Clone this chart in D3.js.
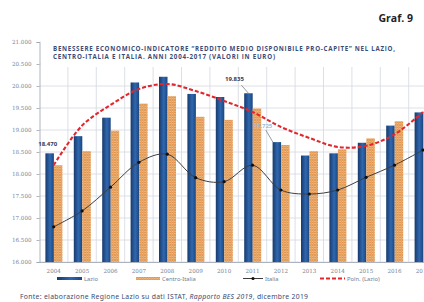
<!DOCTYPE html>
<html>
<head>
<meta charset="utf-8">
<style>
  body { margin: 0; background: #fff; }
  svg { display: block; }
  .tick-lab { font-family: "DejaVu Serif", serif; font-size: 5.6px; fill: #7a8596; }
  .leg { font-family: "Noto Sans", sans-serif; font-size: 5.8px; fill: #6f7d95; }
</style>
</head>
<body>
<svg width="424" height="302"></svg>
<script src="https://cdn.jsdelivr.net/npm/d3@7"></script>
<script>
// data
var years = ["2004","2005","2006","2007","2008","2009","2010","2011","2012","2013","2014","2015","2016","2017"];
var lazio        = [18470, 18860, 19280, 20080, 20210, 19820, 19750, 19835, 18725, 18420, 18470, 18710, 19100, 19400];
var centroItalia = [18200, 18520, 18985, 19600, 19770, 19300, 19230, 19490, 18660, 18520, 18560, 18810, 19200, 19420];
var italia       = [16800, 17160, 17700, 18265, 18450, 17916, 17825, 18200, 17636, 17545, 17636, 17925, 18200, 18545];
var polLazio     = [18200, 19100, 19568, 19930, 20045, 19886, 19660, 19410, 19070, 18820, 18614, 18640, 18900, 19409];
var yTicks = [16000, 16500, 17000, 17500, 18000, 18500, 19000, 19500, 20000, 20500, 21000];
var labelled = [{year: "2004", text: "18.470"}, {year: "2011", text: "19.835"}, {year: "2012", text: "18.725"}];

var svg = d3.select("svg");
var it = d3.formatLocale({decimal: ",", thousands: ".", grouping: [3], currency: ["", "€"]});
var fmt = it.format(",");

var x = d3.scaleBand().domain(years).range([39.5, 437.1]);
var y = d3.scaleLinear().domain([16000, 21000]).range([262, 42]);
var sub = d3.scaleBand().domain(["lazio", "centro"]).range([-8.3, 8.7]);
var cx = function(yr){ return x(yr) + x.bandwidth() / 2; };

var defs = svg.append("defs");
var grad = defs.append("linearGradient").attr("id", "blu").attr("x1", 0).attr("x2", 1).attr("y1", 0).attr("y2", 0);
grad.append("stop").attr("offset", "0%").attr("stop-color", "#183a6c");
grad.append("stop").attr("offset", "55%").attr("stop-color", "#2f68b0");
grad.append("stop").attr("offset", "100%").attr("stop-color", "#1c4680");

var pat = defs.append("pattern").attr("id", "hatch").attr("patternUnits", "userSpaceOnUse")
  .attr("width", 2.5).attr("height", 2.5);
pat.append("rect").attr("width", 2.5).attr("height", 2.5).attr("fill", "#f8d9ae");
pat.append("path").attr("d", "M0,2.5 L2.5,0 M0,0 L2.5,2.5").attr("stroke", "#e0924a").attr("stroke-width", 1);

var g = svg.append("g");

// grid
g.selectAll(".hg").data(yTicks).enter().append("line")
  .attr("x1", 39.5).attr("x2", 437).attr("y1", function(d){ return y(d); }).attr("y2", function(d){ return y(d); })
  .attr("stroke", "#d3d8df").attr("stroke-width", 0.8);
g.selectAll(".vg").data(years.slice(1)).enter().append("line")
  .attr("x1", function(d){ return x(d); }).attr("x2", function(d){ return x(d); })
  .attr("y1", y(21000)).attr("y2", y(16000))
  .attr("stroke", "#d3d8df").attr("stroke-width", 0.8);

// y axis
var ya = g.append("g").attr("transform", "translate(39.5,0)")
  .call(d3.axisLeft(y).tickValues(yTicks).tickSize(3).tickPadding(5).tickFormat(fmt));
ya.select(".domain").attr("stroke", "#9aa3b0").attr("stroke-width", 0.8);
ya.selectAll(".tick line").attr("stroke", "#9aa3b0").attr("stroke-width", 0.8);
ya.selectAll(".tick text").attr("class", "tick-lab").attr("font-family", null).attr("font-size", null);

// x axis
var xa = g.append("g").attr("transform", "translate(0,262)")
  .call(d3.axisBottom(x).tickSize(0).tickPadding(7));
xa.select(".domain").attr("stroke", "#9aa3b0").attr("stroke-width", 0.8);
xa.selectAll(".tick text").attr("class", "tick-lab").attr("font-family", null).attr("font-size", null);

// bars
g.selectAll(".bl").data(years).enter().append("rect")
  .attr("x", function(d){ return cx(d) + sub("lazio"); })
  .attr("width", sub.bandwidth())
  .attr("y", function(d, i){ return y(lazio[i]); })
  .attr("height", function(d, i){ return y(16000) - y(lazio[i]); })
  .attr("fill", "url(#blu)");
g.selectAll(".bc").data(years).enter().append("rect")
  .attr("x", function(d){ return cx(d) + sub("centro"); })
  .attr("width", sub.bandwidth())
  .attr("y", function(d, i){ return y(centroItalia[i]); })
  .attr("height", function(d, i){ return y(16000) - y(centroItalia[i]); })
  .attr("fill", "url(#hatch)");

// title box covers the top of the grid
svg.append("rect").attr("x", 41).attr("y", 40).attr("width", 383).attr("height", 27).attr("fill", "#fff");
var title = svg.append("text").attr("font-family", "Open Sans, sans-serif").attr("font-weight", "bold")
  .attr("font-size", 6.2).attr("fill", "#3b4b78");
title.append("tspan").attr("x", 53).attr("y", 51).attr("textLength", 342)
  .text("BENESSERE ECONOMICO-INDICATORE \u201CREDDITO MEDIO DISPONIBILE PRO-CAPITE\u201D NEL LAZIO,");
title.append("tspan").attr("x", 53).attr("y", 58.5).attr("textLength", 222)
  .text("CENTRO-ITALIA E ITALIA. ANNI 2004-2017 (VALORI IN EURO)");

// trend line
var line = function(vals){
  return d3.line().curve(d3.curveCatmullRom)
    .x(function(d){ return cx(d); })
    .y(function(d, i){ return y(vals[i]); })(years);
};
g.append("path").attr("d", line(polLazio)).attr("fill", "none")
  .attr("stroke", "#e3262c").attr("stroke-width", 2.1).attr("stroke-dasharray", "4,2");

// Italia
g.append("path").attr("d", line(italia)).attr("fill", "none")
  .attr("stroke", "#3d3d3d").attr("stroke-width", 1);
g.selectAll(".dot").data(years).enter().append("circle")
  .attr("cx", function(d){ return cx(d); })
  .attr("cy", function(d, i){ return y(italia[i]); })
  .attr("r", 1.6).attr("fill", "#111");

// value labels
var lab = {"2004": [-2, -7, null], "2011": [-14, -12, [-7, -8, 0, 0]], "2012": [-14, -14, [-11, -12, -4, 0]]};
labelled.forEach(function(l){
  var i = years.indexOf(l.year);
  var bx = cx(l.year) + sub("lazio") + sub.bandwidth() / 2, by = y(lazio[i]);
  var o = lab[l.year];
  if (o[2]) {
    svg.append("line").attr("x1", bx + o[2][0]).attr("y1", by + o[2][1]).attr("x2", bx + o[2][2]).attr("y2", by + o[2][3])
      .attr("stroke", "#555").attr("stroke-width", 0.6);
  }
  svg.append("text").attr("x", bx + o[0]).attr("y", by + o[1]).attr("text-anchor", "middle")
    .attr("font-family", "Open Sans, sans-serif").attr("font-weight", "bold").attr("font-size", 6)
    .attr("fill", l.year === "2012" ? "#9fbcdc" : "#2d3c62").text(l.text);
});

// legend
var lg = svg.append("g");
lg.append("rect").attr("x", 57).attr("y", 277).attr("width", 25).attr("height", 3).attr("fill", "url(#blu)");
lg.append("text").attr("class", "leg").attr("x", 84).attr("y", 280.5).text("Lazio");
lg.append("rect").attr("x", 136).attr("y", 277).attr("width", 24).attr("height", 3).attr("fill", "url(#hatch)");
lg.append("text").attr("class", "leg").attr("x", 162).attr("y", 280.5).text("Centro-Italia");
lg.append("line").attr("x1", 243).attr("x2", 263).attr("y1", 278.5).attr("y2", 278.5).attr("stroke", "#3d3d3d").attr("stroke-width", 1);
lg.append("circle").attr("cx", 253).attr("cy", 278.5).attr("r", 1.6).attr("fill", "#111");
lg.append("text").attr("class", "leg").attr("x", 265).attr("y", 280.5).text("Italia");
lg.append("line").attr("x1", 320).attr("x2", 345).attr("y1", 278.5).attr("y2", 278.5).attr("stroke", "#e3262c")
  .attr("stroke-width", 2).attr("stroke-dasharray", "4,2");
lg.append("text").attr("class", "leg").attr("x", 347).attr("y", 280.5).text("Poln. (Lazio)");

// header and source
svg.append("text").attr("x", 413).attr("y", 21.5).attr("text-anchor", "end")
  .attr("font-family", "Open Sans, sans-serif").attr("font-weight", "bold").attr("font-size", 10.5)
  .attr("fill", "#222").text("Graf. 9");
var src = svg.append("text").attr("x", 20).attr("y", 299).attr("font-family", "Noto Sans, sans-serif")
  .attr("font-size", 6.8).attr("fill", "#3a4a6e").attr("textLength", 288);
src.append("tspan").text("Fonte: elaborazione Regione Lazio su dati ISTAT, ");
src.append("tspan").attr("font-style", "italic").text("Rapporto BES 2019");
src.append("tspan").text(", dicembre 2019");
</script>
</body>
</html>
